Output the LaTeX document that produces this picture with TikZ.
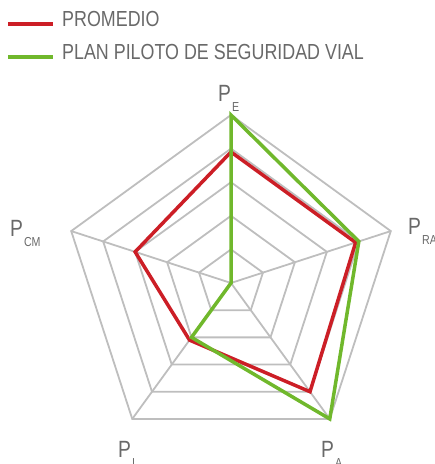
\documentclass[tikz,border=0pt]{standalone}
\usepackage{fontspec}
\setmainfont[FakeStretch=0.82]{Liberation Sans}
\usetikzlibrary{positioning}

\definecolor{gridgray}{RGB}{190,190,190}
\definecolor{promred}{RGB}{204,30,38}
\definecolor{plangreen}{RGB}{112,184,44}
\definecolor{textgray}{RGB}{105,105,105}

\newcommand{\ejelabel}[1]{P\hspace{1pt}\raisebox{-10pt}{\fontsize{13}{13}\selectfont #1}}

\begin{document}
\begin{tikzpicture}
  [x=1pt,y=1pt,every node/.style={inner sep=0pt,anchor=base west,text=textgray}]

  \tikzstyle{grid}   = [draw=gridgray, line width=1.8pt]
  \tikzstyle{serie}  = [line width=3.5pt, line join=miter]
  \tikzstyle{ejes}   = [font=\fontsize{23.5}{24}\selectfont]
  \tikzstyle{leyenda}= [font=\fontsize{21.8}{22}\selectfont]

  \useasboundingbox (0,0) rectangle (435,464);

  % legend
  \coordinate (r1) at (8,440);
  \coordinate (r2) at (53,440);
  \coordinate (g1) at (8,407);
  \coordinate (g2) at (53,407);
  \draw[serie, promred] (r1) -- (r2);
  \draw[serie, plangreen] (g1) -- (g2);
  \node[leyenda] (promedio) at (62,437) {PROMEDIO};
  \node[leyenda] (plan) at (62,404) {PLAN PILOTO DE SEGURIDAD VIAL};

  % grid
  \coordinate (c) at (231,181);
  \foreach \l in {1,...,5}
    \draw[grid, shift={(c)}] (90:\l*33.6) -- (18:\l*33.6) -- (-54:\l*33.6)
      -- (-126:\l*33.6) -- (162:\l*33.6) -- cycle;
  \foreach \a/\n in {90/e,18/ra,-54/a,-126/i,162/cm}
    \draw[grid] (c) -- ++(\a:168) coordinate (v\n);

  % series
  \draw[serie, promred, shift={(c)}] (90:3.9*33.6) -- (18:3.9*33.6)
    -- (-54:4.0*33.6) -- (-126:2.1*33.6) -- (162:3.0*33.6) -- cycle;
  \draw[serie, plangreen, shift={(c)}] (90:5*33.6) -- (18:4*33.6)
    -- (-54:5*33.6) -- (-126:2*33.6) -- (162:0) -- cycle;

  % axis labels
  \node[ejes] (pe)  at (218,362) {\ejelabel{E}};
  \node[ejes] (pra) at (408,229) {\ejelabel{RA}};
  \node[ejes] (pcm) at (10,227)  {\ejelabel{CM}};
  \node[ejes] (pi)  at (118,6)   {\ejelabel{I}};
  \node[ejes] (pa)  at (321,6)   {\ejelabel{A}};
\end{tikzpicture}
\end{document}
